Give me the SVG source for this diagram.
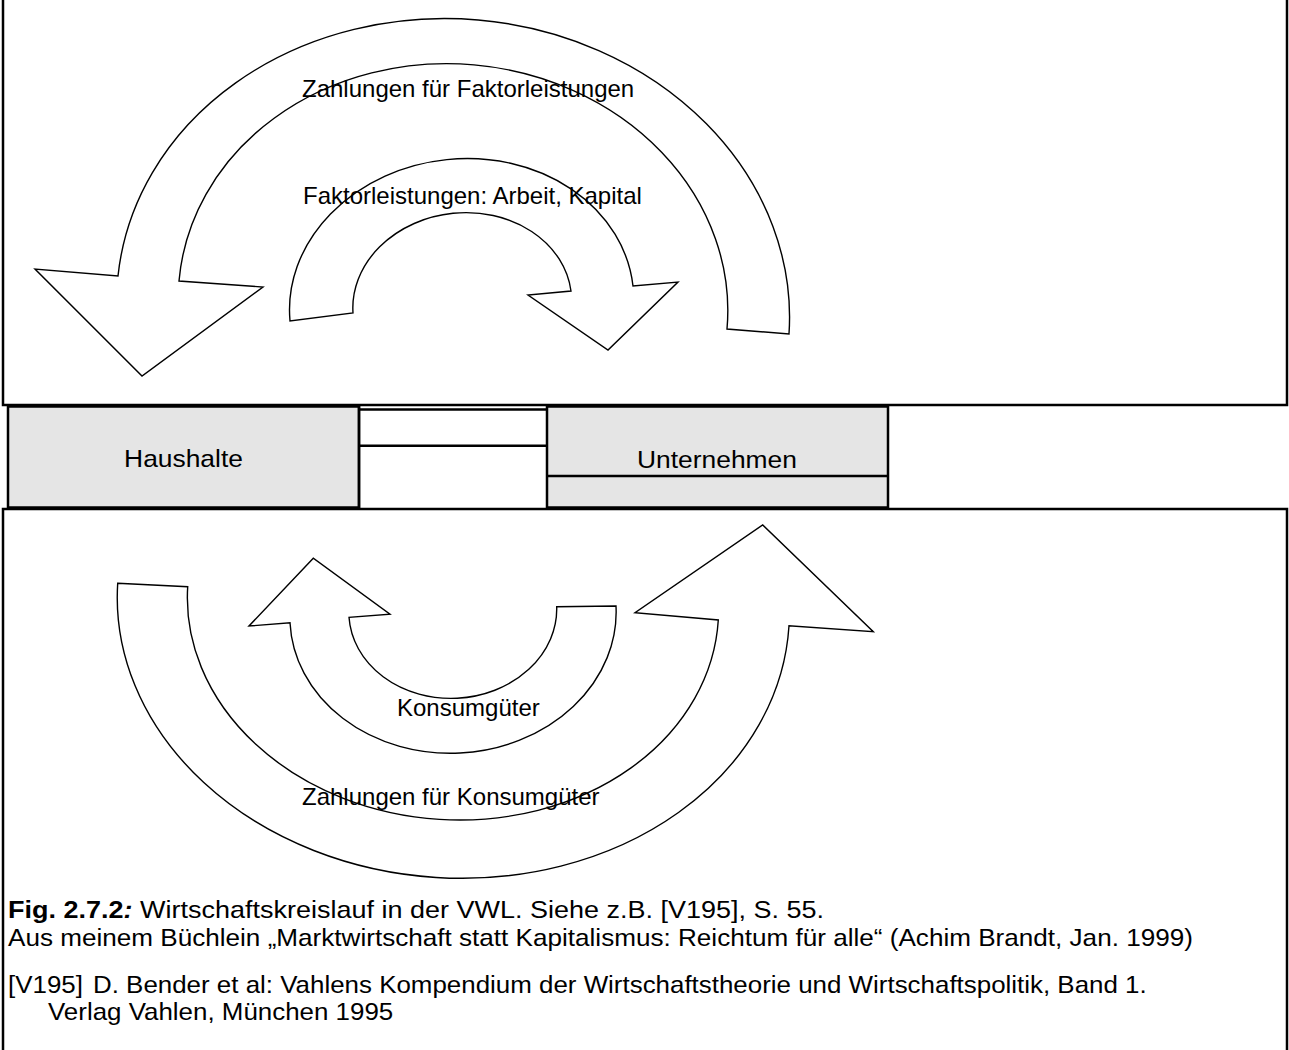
<svg xmlns="http://www.w3.org/2000/svg" width="1289" height="1050" viewBox="0 0 1289 1050">
<style>
  .frame { fill: none; stroke: #000; stroke-width: 2.5; }
  .box { fill: #e5e5e5; stroke: #000; stroke-width: 2.5; }
  .line { stroke: #000; stroke-width: 2.5; fill: none; }
  .arrow { fill: #fff; stroke: #000; stroke-width: 1.4; stroke-linejoin: miter; }
  .lbl { font-family: "Liberation Sans", Arial, sans-serif; font-size: 24px; fill: #000; }
</style>
<rect width="1289" height="1050" fill="#fff"/>
<g id="frames">
  <path class="frame" d="M 3 -5 L 3 405 L 1287 405 L 1287 -5"/>
  <path class="frame" d="M 3 1060 L 3 509 L 1287 509 L 1287 1060"/>
</g>
<g id="node-haushalte">
  <rect class="box" x="8" y="406.5" width="351" height="101"/>
  <text class="lbl" transform="translate(183.5,467) scale(1.1,1)" text-anchor="middle">Haushalte</text>
</g>
<g id="node-markt">
  <path class="line" d="M 359 409.5 L 547 409.5" stroke-width="1.2"/>
  <path class="line" d="M 359 445.7 L 547 445.7"/>
  <path class="line" d="M 359 406 L 359 509"/>
</g>
<g id="node-unternehmen">
  <rect class="box" x="547" y="406.5" width="341" height="101"/>
  <path class="line" d="M 547 476 L 888 476"/>
  <text class="lbl" transform="translate(717,468) scale(1.1,1)" text-anchor="middle">Unternehmen</text>
</g>
<g id="connectors">
  <path id="arrow-zahlungen-faktor" class="arrow" d="M 789 334 A 336.8 291 4.94 0 0 118 276 L 35 269 L 142 376 L 263 287 L 179 281 A 275 241 5 0 1 727 329 Z"/>
  <path id="arrow-faktorleistungen" class="arrow" d="M 290 321 A 172.4 146.2 -5.83 0 1 633 286 L 678 282 L 608 350 L 528 295 L 571 291 A 109.6 91.8 -5.76 0 0 353 313 Z"/>
  <path id="arrow-zahlungen-konsum" class="arrow" d="M 117.7 583.3 L 187.7 586.7 A 265.8 216.4 3.6 0 0 718.3 620 L 635 612.7 L 762.7 525 L 873.3 631.7 L 789 625.7 A 336.3 273.5 3.6 0 1 117.7 583.3 Z"/>
  <path id="arrow-konsumgueter" class="arrow" d="M 616 606 L 556.7 606.7 A 104 87.8 -2.92 0 1 349 617.3 L 390 614.3 L 313.3 558.3 L 249 626 L 290 622.7 A 163.2 138.8 -2.93 0 0 616 606 Z"/>
</g>
<g id="labels">
  <text class="lbl" x="302" y="96.5">Zahlungen für Faktorleistungen</text>
  <text class="lbl" x="303" y="203.5">Faktorleistungen: Arbeit, Kapital</text>
  <text class="lbl" x="397" y="716">Konsumgüter</text>
  <text class="lbl" x="302" y="805">Zahlungen für Konsumgüter</text>
</g>
<g id="caption">
  <text class="lbl" transform="translate(8,918) scale(1.125,1)"><tspan font-weight="bold">Fig. 2.7.2</tspan><tspan font-weight="bold" font-style="italic">:</tspan> Wirtschaftskreislauf in der VWL. Siehe z.B. [V195], S. 55.</text>
  <text class="lbl" transform="translate(8,946) scale(1.088,1)">Aus meinem Büchlein „Marktwirtschaft statt Kapitalismus: Reichtum für alle“ (Achim Brandt, Jan. 1999)</text>
  <text class="lbl" transform="translate(8,993) scale(1.08,1)">[V195]</text>
  <text class="lbl" transform="translate(93,993) scale(1.08,1)">D. Bender et al: Vahlens Kompendium der Wirtschaftstheorie und Wirtschaftspolitik, Band 1.</text>
  <text class="lbl" transform="translate(48,1020) scale(1.08,1)">Verlag Vahlen, München 1995</text>
</g>
</svg>
